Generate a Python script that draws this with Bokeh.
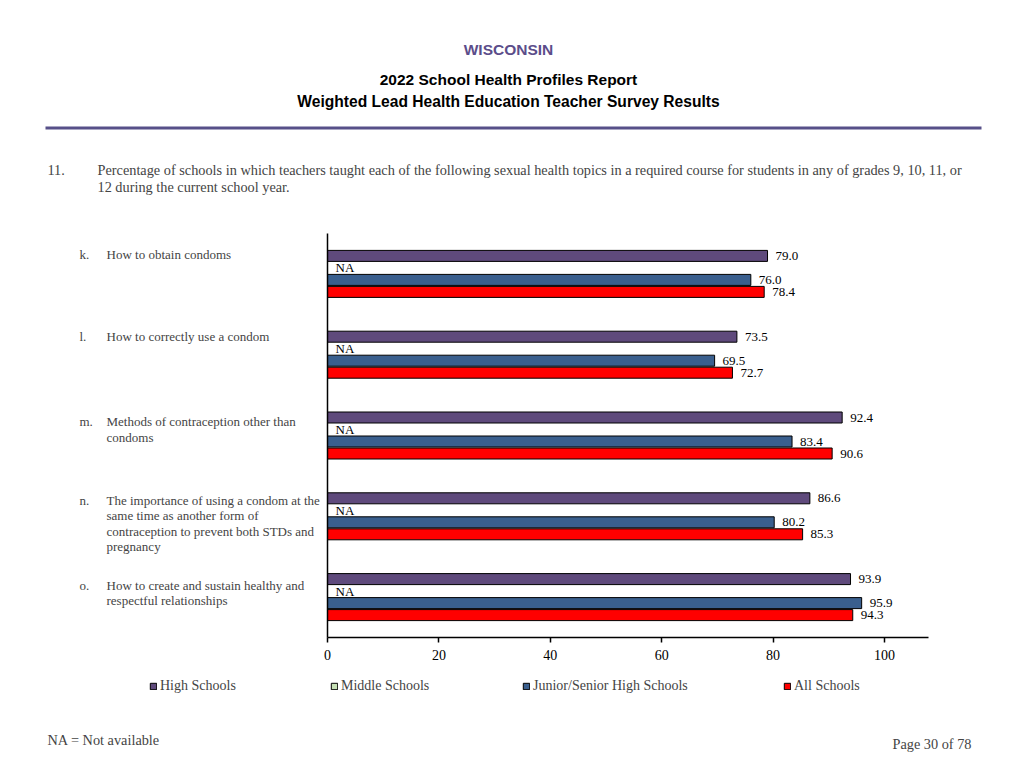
from bokeh.plotting import figure
from bokeh.models import (Range1d, LinearAxis, FixedTicker, Label, BoxAnnotation,
                          Legend, LegendItem, ColumnDataSource)
from bokeh.core.properties import value
from bokeh.embed import file_html
from bokeh.resources import INLINE

# ---------------- data ----------------
letters = ["k.", "l.", "m.", "n.", "o."]
topics = [
    ["How to obtain condoms"],
    ["How to correctly use a condom"],
    ["Methods of contraception other than", "condoms"],
    ["The importance of using a condom at the", "same time as another form of",
     "contraception to prevent both STDs and", "pregnancy"],
    ["How to create and sustain healthy and", "respectful relationships"],
]
series_names = ["High Schools", "Middle Schools", "Junior/Senior High Schools", "All Schools"]
high = [79.0, 73.5, 92.4, 86.6, 93.9]
middle = [None, None, None, None, None]   # NA
junior = [76.0, 69.5, 83.4, 80.2, 95.9]
all_schools = [78.4, 72.7, 90.6, 85.3, 94.3]
x_ticks = [0, 20, 40, 60, 80, 100]

# ---------------- style / layout ----------------
colors = ["#5F4A7C", "#C5E0B4", "#3A5F8E", "#FF0000"]
SERIF = "Liberation Serif"
SANS = "Liberation Sans"
W, H = 1024, 768
FL, FR, FT, FB = 327, 928, 233, 637      # chart area edges in page px
X0, X100 = 327, 884
xpu = (X100 - X0) / 100.0                # px per percent
N = len(letters)
ppu = (FB - FT) / N                      # px per group
pitch = 12 / ppu
bar_h = 11 / ppu
label_first_offset = [-1, 0, 4, 2, 6]    # px below High Schools bar centre
line_gap = 15.5


def sx(px):
    return px


def sy(py):
    return H - py


p = figure(width=W, height=H, output_backend="svg", toolbar_location=None,
           x_range=Range1d(-X0 / xpu, (W - X0) / xpu),
           y_range=Range1d((H - FT) / ppu, -FT / ppu),
           x_axis_location=None, y_axis_location=None,
           min_border_left=0, min_border_right=0,
           min_border_top=0, min_border_bottom=0)
p.outline_line_color = None
p.grid.visible = False
p.background_fill_color = "white"
p.border_fill_color = "white"

xaxis = LinearAxis(ticker=FixedTicker(ticks=x_ticks), bounds=(0, (FR - X0) / xpu),
                   fixed_location=N)
xaxis.minor_tick_line_color = None
xaxis.major_tick_in = 0
xaxis.major_tick_out = 5
xaxis.axis_line_width = 1.5
xaxis.major_tick_line_width = 1.5
xaxis.major_label_standoff = 7
xaxis.major_label_text_font = SERIF
xaxis.major_label_text_font_size = "14px"
xaxis.major_label_text_color = "black"
p.add_layout(xaxis, "below")

yaxis = LinearAxis(ticker=FixedTicker(ticks=[]), bounds=(0, N), fixed_location=0)
yaxis.minor_tick_line_color = None
yaxis.major_tick_line_color = None
yaxis.major_label_text_font_size = "0px"
yaxis.axis_line_width = 1.5
p.add_layout(yaxis, "left")

series_vals = [high, middle, junior, all_schools]
renderers = []
for s, vals in enumerate(series_vals):
    ys = [i + 0.5 + (s - 1.5) * pitch for i in range(N)]
    v = [float("nan") if x is None else x for x in vals]
    tx = [0 if x is None else x for x in vals]
    lab = ["NA" if x is None else f"{x:.1f}" for x in vals]
    src = ColumnDataSource(dict(y=ys, v=v, tx=tx, lab=lab))
    r = p.hbar(y="y", left=0, right="v", height=bar_h, source=src,
               fill_color=colors[s], line_color="black", line_width=1)
    renderers.append(r)
    p.text(x="tx", y="y", text="lab", source=src, x_offset=8,
           text_baseline="middle", text_align="left",
           text_font=value(SERIF), text_font_size="13px", text_color="black")

# category labels
for i in range(N):
    y_hs = i + 0.5 - 1.5 * pitch
    for j, line in enumerate(topics[i]):
        yy = y_hs + (label_first_offset[i] + j * line_gap) / ppu
        if j == 0:
            p.add_layout(Label(x=sx(79), x_units="screen", y=yy, text=letters[i],
                               text_font=SERIF, text_font_size="13px",
                               text_baseline="middle", text_align="left"))
        p.add_layout(Label(x=sx(106), x_units="screen", y=yy, text=line,
                           text_font=SERIF, text_font_size="13px",
                           text_baseline="middle", text_align="left"))

# header
p.add_layout(Label(x=sx(508), y=sy(49), x_units="screen", y_units="screen",
                   text="WISCONSIN", text_font=SANS, text_font_style="bold",
                   text_font_size="15.5px", text_color="#5B4D8A",
                   text_align="center", text_baseline="middle"))
p.add_layout(Label(x=sx(508), y=sy(79), x_units="screen", y_units="screen",
                   text="2022 School Health Profiles Report", text_font=SANS,
                   text_font_style="bold", text_font_size="15.5px", text_color="black",
                   text_align="center", text_baseline="middle"))
p.add_layout(Label(x=sx(508), y=sy(101), x_units="screen", y_units="screen",
                   text="Weighted Lead Health Education Teacher Survey Results",
                   text_font=SANS, text_font_style="bold", text_font_size="15.6px",
                   text_color="black", text_align="center", text_baseline="middle"))
p.add_layout(BoxAnnotation(left=sx(45), right=sx(981), top=sy(126), bottom=sy(129),
                           left_units="screen", right_units="screen",
                           top_units="screen", bottom_units="screen",
                           fill_color="#575089", fill_alpha=1, line_color=None))

# question
p.add_layout(Label(x=sx(47), y=sy(169), x_units="screen", y_units="screen", text="11.",
                   text_font=SERIF, text_font_size="14.3px", text_baseline="middle"))
p.add_layout(Label(x=sx(97), y=sy(169), x_units="screen", y_units="screen",
                   text="Percentage of schools in which teachers taught each of the following sexual health topics in a required course for students in any of grades 9, 10, 11, or",
                   text_font=SERIF, text_font_size="14.3px", text_baseline="middle"))
p.add_layout(Label(x=sx(97), y=sy(186), x_units="screen", y_units="screen",
                   text="12 during the current school year.",
                   text_font=SERIF, text_font_size="14.3px", text_baseline="middle"))

# legend
legend_x = [149, 330, 522, 783]
for s in range(4):
    lg = Legend(items=[LegendItem(label=series_names[s], renderers=[renderers[s]])],
                location=(sx(legend_x[s]), sy(694)), orientation="horizontal",
                padding=0, margin=0, spacing=0, label_standoff=3,
                glyph_width=8, glyph_height=8, label_height=16,
                label_text_font=SERIF, label_text_font_size="14px",
                background_fill_alpha=0, border_line_color=None)
    p.add_layout(lg, "center")

# footer
p.add_layout(Label(x=sx(47), y=sy(739), x_units="screen", y_units="screen",
                   text="NA = Not available", text_font=SERIF, text_font_size="14.3px",
                   text_baseline="middle"))
p.add_layout(Label(x=sx(971), y=sy(743), x_units="screen", y_units="screen",
                   text="Page 30 of 78", text_font=SERIF, text_font_size="14.3px",
                   text_baseline="middle", text_align="right"))

open("out.html", "w").write(file_html(p, INLINE))
